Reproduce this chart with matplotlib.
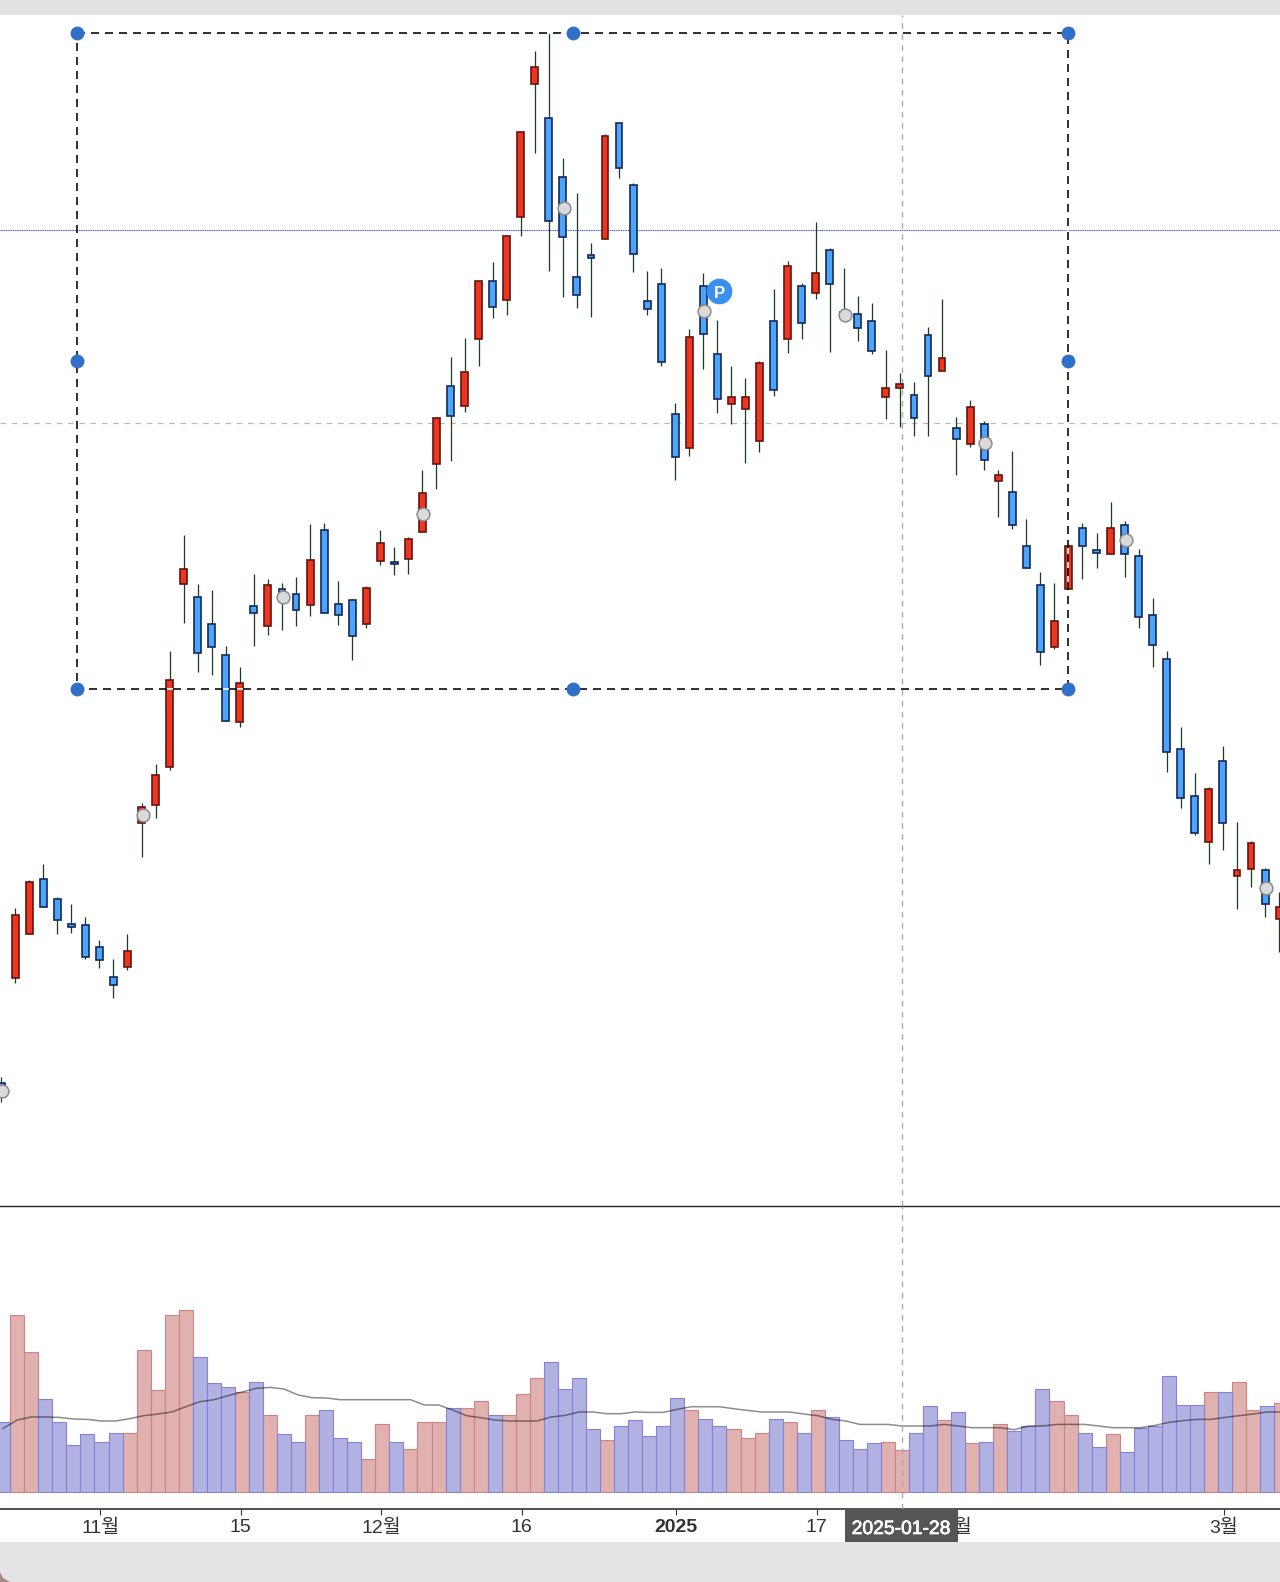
import matplotlib
matplotlib.use('Agg')
import matplotlib.pyplot as plt
import matplotlib.patheffects as pe
import numpy as np
from matplotlib.patches import Rectangle, Polygon

plt.rcParams['font.family'] = ['Liberation Sans', 'Noto Sans CJK KR', 'DejaVu Sans']

# candles (price units are arbitrary, the chart has no price scale)
direction = ['b','r','r','b','b','b','b','b','b','r',
             'r','r','r','r','b','b','b','r','b','r',
             'b','b','r','b','b','b','r','r','b','r',
             'r','r','b','r','r','b','r','r','r','b',
             'b','b','b','r','b','b','b','b','b','r',
             'b','b','r','r','r','b','r','b','r','b',
             'b','b','b','r','r','b','b','r','b','r',
             'b','r','b','b','b','r','r','b','b','r',
             'b','b','b','b','b','b','r','b','r','r',
             'b','r']
highs = [123, 291.7, 320, 335.7, 302.7, 295.7, 283, 260, 241, 265.7,
         397.3, 436, 548.7, 664.7, 615.7, 610.3, 553.7, 532.7, 626, 620.7,
         617.3, 622.7, 675.7, 677.3, 619, 601.3, 613.7, 670, 652.7, 663,
         730, 783, 842.7, 861.7, 919.3, 937.7, 964, 1067.7, 1149, 1166.7,
         1041.7, 1006.7, 956.7, 1066, 1076.7, 1016.7, 928.7, 932.3, 796.7, 870.7,
         927, 879.7, 833.7, 821.7, 838.7, 911.3, 939.3, 916.7, 978.3, 951.7,
         932.3, 904, 897, 849.7, 826.7, 817.7, 872.7, 900.7, 782.7, 800.3,
         779, 729.7, 749.3, 680.7, 627.7, 617.3, 654, 677.3, 666.7, 698.3,
         678.7, 650.7, 601.7, 548.7, 472.7, 427.3, 413.3, 453.7, 377.7, 358.7,
         332, 307.7]
body_top = [117.3, 284.7, 318, 321.3, 300.7, 275.7, 275.3, 252.7, 222.7, 249.3,
            393.3, 425, 520.3, 631, 602.7, 576.3, 544.7, 516.7, 594, 615,
            611.3, 606.3, 639.7, 669.7, 595.7, 599.7, 611.7, 657.3, 638.3, 661,
            706.7, 782.3, 814, 828, 919.3, 919.3, 963.7, 1067.7, 1132.7, 1081.7,
            1023.3, 923.3, 944.7, 1064, 1076.7, 1014.7, 898.7, 916.3, 786, 863.3,
            914.3, 845.7, 803.3, 803.3, 837, 879.3, 933.7, 914.3, 926.7, 949.7,
            888, 886, 879.3, 812.3, 815.7, 805.3, 865, 842.3, 771.7, 793,
            775.7, 724.7, 708.3, 654, 615.3, 578.7, 654, 671.7, 650.3, 671.7,
            675, 643.7, 585.3, 541.3, 451.3, 404, 411.3, 439.3, 330.3, 356.7,
            330.3, 293.3]
body_bot = [103, 222, 266, 292.7, 280.3, 273.3, 243.3, 239.7, 215.3, 232.7,
            376.7, 394.7, 433.3, 616.3, 547.3, 553.3, 479.3, 477.7, 586.7, 574.3,
            598.7, 590, 595.3, 586.7, 584.7, 563.7, 576, 639.3, 635.7, 641,
            667.7, 736.3, 783.7, 794.3, 861, 892.7, 899.7, 982.7, 1116.3, 979,
            963, 905, 941.7, 961.3, 1031.7, 945.7, 890.7, 838, 743.3, 752,
            866.3, 801.3, 795.7, 790.7, 759, 810, 861, 877, 906.7, 915.7,
            883, 871.7, 848.7, 803, 811.7, 781.7, 824, 829.3, 760.7, 755.7,
            739.7, 718.7, 674.7, 632.3, 547.7, 552.7, 611, 653.7, 646.7, 646.3,
            646.3, 583, 554.7, 447.7, 401.7, 366.7, 357.7, 377, 324.3, 331.3,
            296.3, 280.7]
lows = [98, 216.7, 266, 292.7, 265.7, 267.3, 241.3, 232.3, 202.3, 230.3,
        343.3, 382.3, 429.7, 577.3, 528.3, 524.7, 479.3, 473.3, 554.3, 565,
        570.3, 574, 584.3, 586.7, 575.3, 540.3, 572.3, 635.3, 624.7, 626.3,
        667.7, 711.3, 739.3, 788.3, 834.3, 881.7, 885.3, 964.3, 1047.3, 929.3,
        903, 892.3, 883.3, 961.3, 1022.3, 927.7, 885.3, 834.3, 720, 744.3,
        830.7, 786.7, 776.3, 737.3, 748.3, 804.3, 846.7, 860.7, 901.3, 848.3,
        882, 859, 846.3, 781.3, 772.7, 764, 764, 829.3, 725.3, 753.3,
        730.3, 683, 670.7, 632.3, 535.3, 550.7, 611, 621.3, 632, 646.3,
        623.3, 572.3, 533.3, 427.7, 392.3, 364.7, 336.3, 350.3, 290.7, 313.3,
        283.3, 248.3]

volume = [69.3, 176.7, 140, 92.3, 69.3, 46.7, 57.3, 50, 59, 59,
          141.7, 101.3, 176.7, 182, 134.3, 108.3, 104.7, 99.3, 110, 76.3,
          57.3, 50, 76.3, 81.7, 53.7, 50, 32.3, 67.7, 50, 43,
          69.3, 69.3, 83.3, 83.3, 90.3, 76.3, 76.3, 97.3, 113.3, 129.3,
          103, 113.3, 62.3, 51.7, 66, 71.3, 55.3, 66, 94, 81.7,
          73, 66, 62.3, 53.7, 59, 73, 69.3, 59, 81.7, 74.7,
          51.7, 43, 48.3, 50, 41.3, 59, 85.3, 71.3, 80, 48.3,
          50, 67.7, 60.7, 66, 103, 90.3, 76.3, 59, 45, 57.3,
          39.3, 64, 66, 115.3, 87, 87, 99.3, 99.3, 110, 81.7,
          85.3, 88.7]
volume_ma = [63.3, 71.7, 74.7, 74.7, 74.3, 72.7, 72.3, 70.7, 70.7, 73,
             76, 77.7, 79.7, 85, 90, 92, 96, 99.7, 103.3, 104.3,
             102.7, 96.7, 94, 93.7, 92, 92, 92, 92, 92, 92,
             86.7, 86.7, 81.7, 76, 74, 71.7, 70.7, 70.7, 70.7, 74.7,
             76.3, 79.7, 79.7, 78, 78, 79.7, 79.3, 79.3, 82.3, 85,
             85, 85, 83, 81.3, 79.7, 79.7, 79.7, 77.7, 76, 72.3,
             70.7, 67.3, 67.3, 67.3, 65.7, 65.7, 65.7, 67.3, 65.7, 64,
             64, 64, 62, 65.7, 65.7, 67.3, 67.3, 67.3, 65.7, 64,
             64, 64, 66.3, 69.3, 71, 72.3, 72.3, 74.3, 76, 77.7,
             79.7, 79.7]

tick_idx = [7, 17, 27, 37, 48, 58, 68, 87]
tick_labels = ['11월', '15', '12월', '16', '2025', '17', '2월', '3월']

marker_idx = [0, 10, 20, 30, 40, 50, 60, 70, 80, 90]
marker_price = [109, 385.3, 603.3, 686.3, 992.3, 889, 885, 757, 660, 311.7]

ref_price = 970.3
cross_price = 777
cross_date = '2025-01-28'

C_RED, C_RED_EDGE = '#ee3520', '#64150f'
C_BLUE, C_BLUE_EDGE = '#4aa5fb', '#14295a'
C_WICK = '#183c25'
C_VRED, C_VRED_EDGE = '#e0b1af', '#cb8585'
C_VBLUE, C_VBLUE_EDGE = '#b1b1e2', '#8484d6'

W, H = 1280, 1582
STEP = 14.044
fig = plt.figure(figsize=(W / 100, H / 100), dpi=100, facecolor='white')

# window bands of the screenshot
fig.add_artist(Rectangle((0, 1 - 15 / H), 1, 15 / H, transform=fig.transFigure, color='#e2e2e2', lw=0))
fig.add_artist(Rectangle((0, 0), 1, (H - 1541.7) / H, transform=fig.transFigure, color='#e4e4e6', lw=0))
fig.add_artist(Polygon([(0, 0), (0, 10 / H), (3 / W, 4 / H), (10 / W, 0)], closed=True,
                       transform=fig.transFigure, color='#a58a88', lw=0))

ax = fig.add_axes([0, (H - 1205.6) / H, 1, (1205.6 - 15) / H])
ax_vol = fig.add_axes([0, (H - 1508.7) / H, 1, (1508.7 - 1205.6) / H])

idx = np.arange(len(highs))
is_red = np.array(direction) == 'r'
top = np.array(body_top)
bot = np.array(body_bot)

# price panel
ax.set_xlim(-1.1 / STEP, (W - 1.1) / STEP)
ax.set_ylim(-5.6, 1185)
ax.axhline(ref_price, color='#3a55cc', lw=0.8, ls=(0, (1, 0.6)), zorder=1)
ax.axhline(cross_price, color='#b8b8b8', lw=0.9, ls=(0, (4.5, 4.5)), zorder=1)
ax.axvline(64.15, color='#aaaaaa', lw=1.0, ls=(0, (4, 4)), zorder=1)
ax.vlines(idx, lows, highs, color=C_WICK, lw=0.9, zorder=2)
ax.bar(idx[is_red], (top - bot)[is_red], bottom=bot[is_red], width=0.49,
       color=C_RED, edgecolor=C_RED_EDGE, linewidth=1.2, zorder=3)
ax.bar(idx[~is_red], (top - bot)[~is_red], bottom=bot[~is_red], width=0.49,
       color=C_BLUE, edgecolor=C_BLUE_EDGE, linewidth=1.2, zorder=3)
ax.plot(np.array(marker_idx) + 0.07, marker_price, ls='none', marker='o', ms=9.2,
        mfc='#dadada', mec='#8c8c8c', mew=1.1, zorder=4, clip_on=False)

# selection box
box_x = [5.43, 40.69, 75.95]
box_y = [511, 839, 1166.7]
dash = (0, (4.8, 3.6))
ax.plot([box_x[0], box_x[2], box_x[2], box_x[0], box_x[0]],
        [box_y[2], box_y[2], box_y[0], box_y[0], box_y[2]],
        color='#0c0c0c', gapcolor='white', lw=1.2, ls=dash, zorder=5)
hx = [box_x[0], box_x[1], box_x[2], box_x[0], box_x[2], box_x[0], box_x[1], box_x[2]]
hy = [box_y[2], box_y[2], box_y[2], box_y[1], box_y[1], box_y[0], box_y[0], box_y[0]]
ax.plot(hx, hy, ls='none', marker='o', ms=10, mfc='#3170c8', mec='#3170c8', mew=0, zorder=6)

# P badge
ax.plot([51.12], [909], marker='o', ms=18.5, mfc='#3b8ff0', mec='#3b8ff0', mew=0, zorder=7)
ax.text(51.12, 908.5, 'P', color='white', fontsize=12, fontweight='bold',
        ha='center', va='center_baseline', zorder=8)

ax.set_xticks([])
ax.set_yticks([])
for s in ['top', 'left', 'right']:
    ax.spines[s].set_visible(False)
ax.spines['bottom'].set_color('#222222')
ax.spines['bottom'].set_linewidth(1.0)
ax.patch.set_alpha(0)

# volume panel
off = 3.2
ax_vol.set_xlim(-off / STEP, (W - off) / STEP)
ax_vol.set_ylim(-17, 286.1)
vol = np.array(volume)
ax_vol.bar(idx[is_red], vol[is_red], width=1.0, color=C_VRED, edgecolor=C_VRED_EDGE, linewidth=0.8, zorder=2)
ax_vol.bar(idx[~is_red], vol[~is_red], width=1.0, color=C_VBLUE, edgecolor=C_VBLUE_EDGE, linewidth=0.8, zorder=2)
ax_vol.plot(idx, volume_ma, color='black', alpha=0.45, lw=1.1, zorder=3)
ax_vol.axvline(64.0, color='#aaaaaa', lw=1.0, ls=(0, (4, 4)), zorder=4)

ax_vol.set_yticks([])
ax_vol.set_xticks(np.array(tick_idx) - 0.08)
ax_vol.set_xticklabels(tick_labels, fontsize=14, color='#333333')
ax_vol.get_xticklabels()[tick_labels.index('2025')].set_fontweight('bold')
ax_vol.tick_params(axis='x', length=4.3, width=0.8, color='#333333', pad=3.4)
for s in ['top', 'left', 'right']:
    ax_vol.spines[s].set_visible(False)
ax_vol.spines['bottom'].set_color('#333333')
ax_vol.spines['bottom'].set_linewidth(1.2)
ax_vol.patch.set_alpha(0)

# crosshair date tag
ax_vol.add_patch(Rectangle((59.95, -50.5), 8.01, 33.5, facecolor='#555555', edgecolor='none',
                           clip_on=False, zorder=10))
tag = ax_vol.text(63.94, -37.8, cross_date, color='white', fontsize=13.9, ha='center', va='center',
                  clip_on=False, zorder=11)
tag.set_path_effects([pe.withStroke(linewidth=0.5, foreground='white')])

fig.savefig('out.png', dpi=100, facecolor='white')
